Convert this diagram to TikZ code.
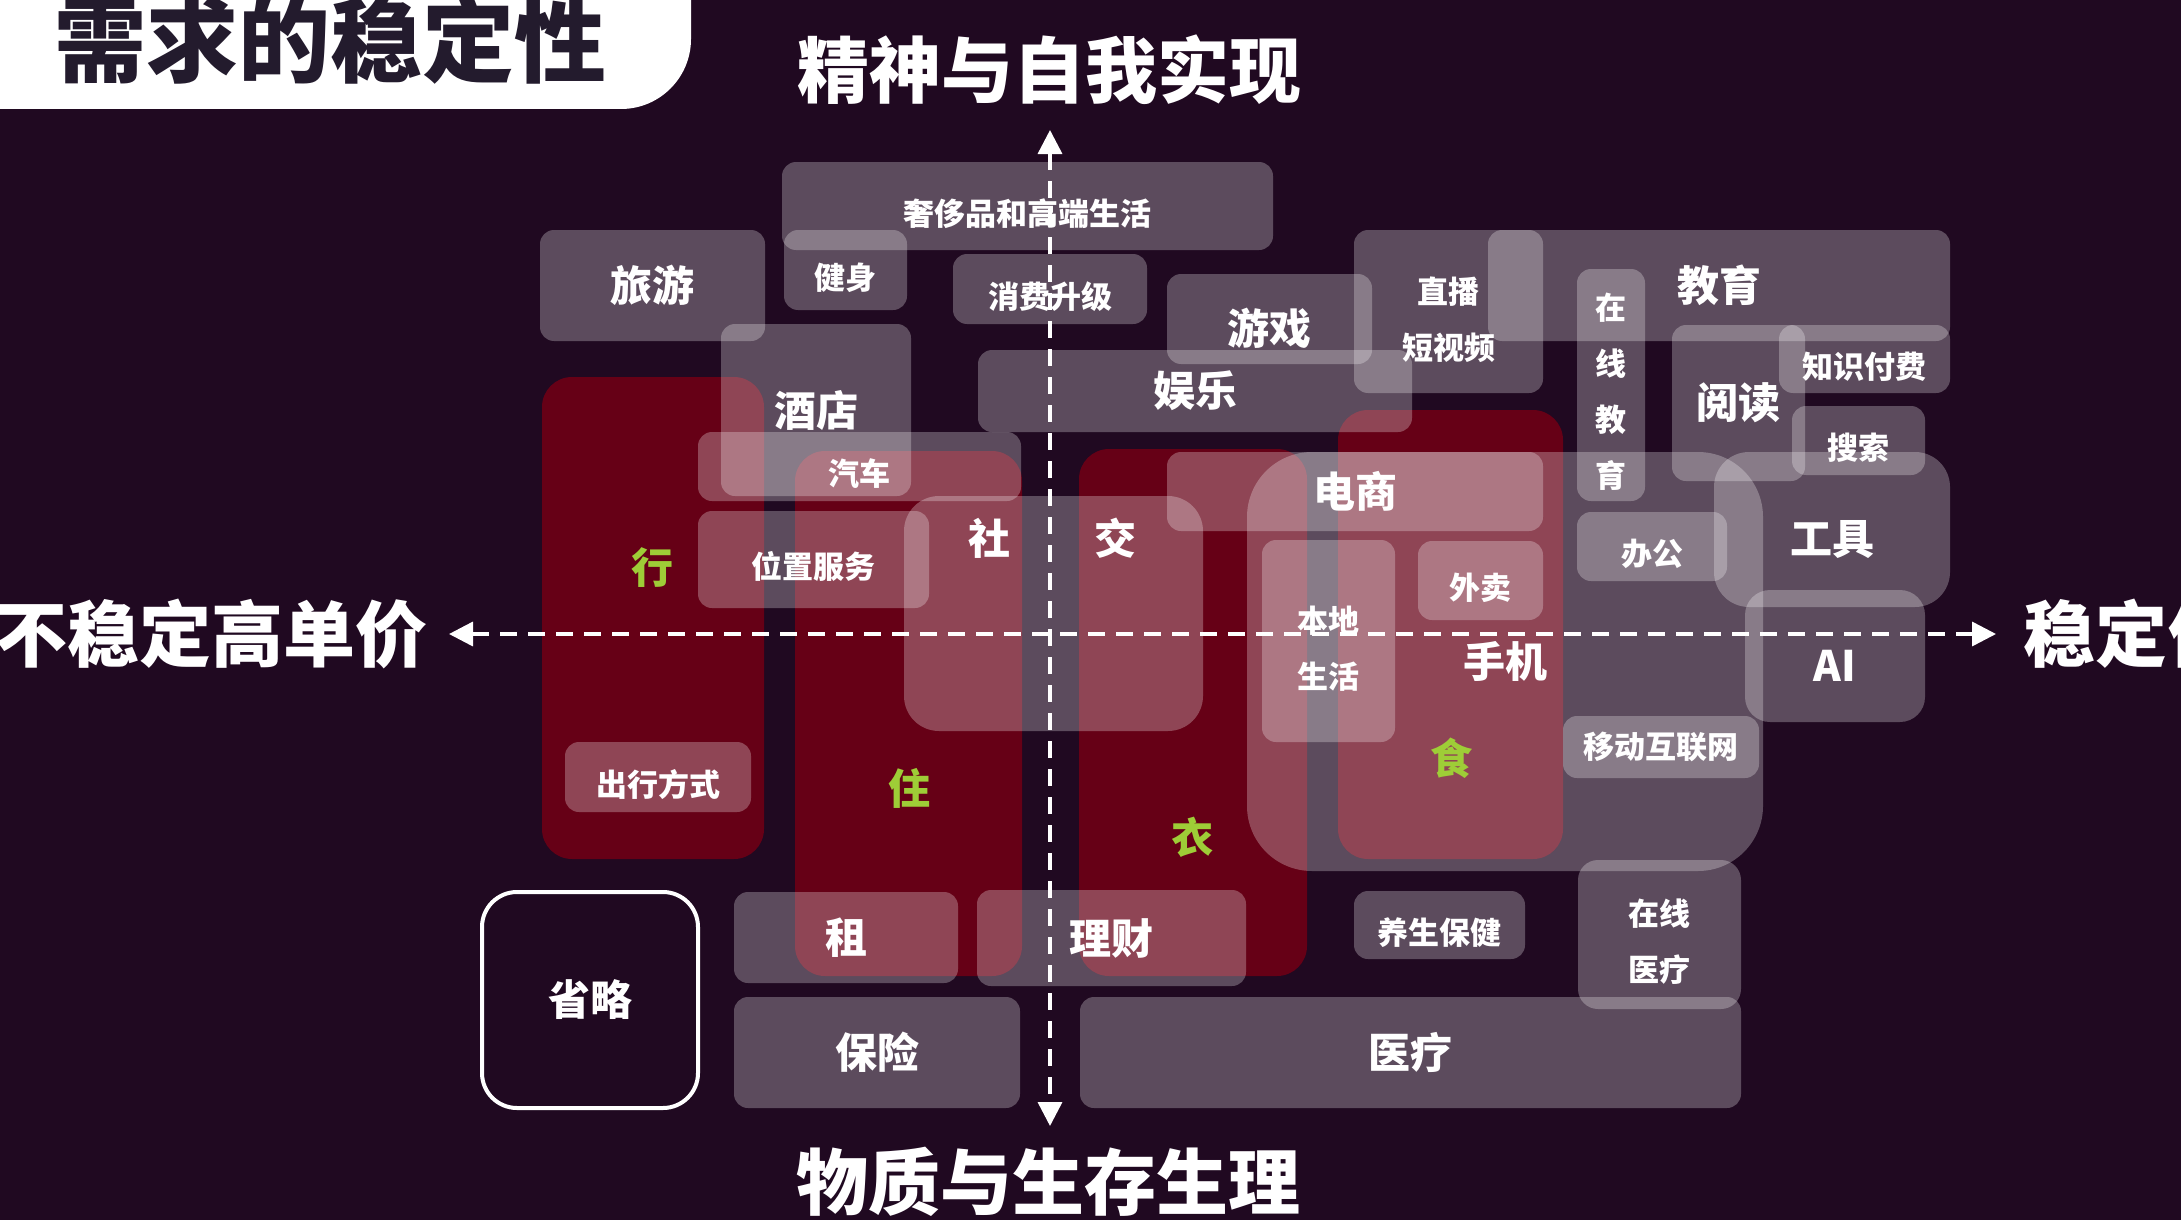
\documentclass[tikz,border=0pt]{standalone}
\usepackage{fontspec}
\setmainfont{Noto Sans CJK SC}
\usepackage{tikz}
\usetikzlibrary{arrows.meta}
\definecolor{bg}{RGB}{32,9,33}
\definecolor{wine}{RGB}{102,0,22}
\definecolor{lime}{RGB}{158,205,55}
\definecolor{ink}{RGB}{35,27,45}
\newcommand{\smtxt}{\fontsize{31}{56}\selectfont\bfseries}
\newcommand{\bgtxt}{\fontsize{42}{42}\selectfont\bfseries}
\newcommand{\axtxt}{\fontsize{72}{72}\selectfont\bfseries}
\newcommand{\tttxt}{\fontsize{92}{92}\selectfont\bfseries}
\tikzset{
	gbox/.style={fill=white, fill opacity=0.27, text opacity=1, text=white, rounded corners=14pt, inner sep=0pt},
	rbox/.style={fill=wine, rounded corners=30pt, inner sep=0pt},
	stxt/.style={font=\smtxt, text height=40pt, text depth=2pt},
	btxt/.style={font=\bgtxt},
	ltxt/.style={font=\bgtxt, text height=53pt, text depth=3pt},
	mtxt/.style={text=white, font=\smtxt, align=center},
	axisline/.style={white, line width=3.5pt, dash pattern=on 17pt off 11pt, {Triangle[length=24pt,width=24pt]}-{Triangle[length=24pt,width=24pt]}},
}

\begin{document}
\begin{tikzpicture}[x=1pt, y=-1pt]
	\useasboundingbox (0,0) rectangle (2181,1220);
	\fill [bg] (0,0) rectangle (2181,1220);
	\node [fill=white, rounded corners=70pt, minimum width=791pt, minimum height=189pt, inner sep=0pt] (T0) at (295.5,14.5) {};
	\node [text=ink, font=\tttxt] (T1) at (330,40) {需求的稳定性};
	\node [rbox, minimum width=222pt, minimum height=482pt] (R1) at (653,618) {};
	\node [rbox, minimum width=227pt, minimum height=525pt] (R2) at (908.5,713.5) {};
	\node [rbox, minimum width=228pt, minimum height=527pt] (R3) at (1193,712.5) {};
	\node [rbox, minimum width=225pt, minimum height=449pt] (R4) at (1450.5,634.5) {};
	\node [gbox, stxt, minimum width=491pt, minimum height=88pt] (B1) at (1027.5,206) {奢侈品和高端生活};
	\node [gbox, btxt, minimum width=225pt, minimum height=111pt] (B2) at (652.5,285.5) {旅游};
	\node [gbox, stxt, minimum width=123pt, minimum height=80pt] (B3) at (845.5,270) {健身};
	\node [gbox, stxt, minimum width=194pt, minimum height=70pt] (B4) at (1050,289) {消费升级};
	\node [gbox, btxt, minimum width=190pt, minimum height=172pt] (B5) at (816,410) {酒店};
	\node [gbox, stxt, minimum width=323pt, minimum height=69pt] (B6) at (859.5,466.5) {汽车};
	\node [gbox, stxt, minimum width=231pt, minimum height=97pt] (B7) at (813.5,559.5) {位置服务};
	\node [gbox, minimum width=299pt, minimum height=235pt, rounded corners=35pt] (B8) at (1053.5,613.5) {};
	\node [gbox, ltxt, minimum width=205pt, minimum height=90pt] (B9) at (1269.5,319) {游戏};
	\node [gbox, btxt, minimum width=434pt, minimum height=82pt] (B10) at (1195,391) {娱乐};
	\node [gbox, minimum width=189pt, minimum height=163pt] (B11) at (1448.5,311.5) {};
	\node [gbox, btxt, minimum width=462pt, minimum height=111pt] (B12) at (1719,285.5) {教育};
	\node [gbox, minimum width=68pt, minimum height=232pt] (B13) at (1611,385) {};
	\node [gbox, btxt, minimum width=133pt, minimum height=156pt] (B14) at (1738.5,403) {阅读};
	\node [gbox, stxt, minimum width=171pt, minimum height=68pt] (B15) at (1864.5,359) {知识付费};
	\node [gbox, stxt, minimum width=133pt, minimum height=69pt] (B16) at (1858.5,440.5) {搜索};
	\node [gbox, btxt, minimum width=516pt, minimum height=419pt, rounded corners=65pt] (B17) at (1505,661.5) {手机};
	\node [gbox, btxt, minimum width=376pt, minimum height=79pt] (B18) at (1355,491.5) {电商};
	\node [gbox, minimum width=133pt, minimum height=202pt] (B19) at (1328.5,641) {};
	\node [gbox, stxt, minimum width=125pt, minimum height=79pt] (B20) at (1480.5,580.5) {外卖};
	\node [gbox, stxt, minimum width=150pt, minimum height=69pt] (B21) at (1652,546.5) {办公};
	\node [gbox, ltxt, minimum width=236pt, minimum height=155pt, rounded corners=35pt] (B22) at (1832,529.5) {工具};
	\node [gbox, ltxt, minimum width=180pt, minimum height=132pt, rounded corners=25pt] (B23) at (1835,656) {AI};
	\node [gbox, font=\smtxt, minimum width=196pt, minimum height=62pt] (B24) at (1661,747) {移动互联网};
	\node [gbox, stxt, minimum width=186pt, minimum height=70pt] (B25) at (658,777) {出行方式};
	\node [gbox, btxt, minimum width=224pt, minimum height=91pt] (B26) at (846,937.5) {租};
	\node [gbox, btxt, minimum width=269pt, minimum height=96pt] (B27) at (1111.5,938) {理财};
	\node [gbox, stxt, minimum width=171pt, minimum height=68pt] (B28) at (1439.5,925) {养生保健};
	\node [gbox, minimum width=163pt, minimum height=149pt, rounded corners=20pt] (B29) at (1659.5,934.5) {};
	\node [gbox, btxt, minimum width=286pt, minimum height=111pt] (B30) at (877,1052.5) {保险};
	\node [gbox, btxt, minimum width=661pt, minimum height=111pt] (B31) at (1410.5,1052.5) {医疗};
	\node [draw=white, line width=4pt, rounded corners=35pt, minimum width=216pt, minimum height=216pt, inner sep=0pt, text=white, font=\bgtxt] (B32) at (590,1000) {省略};
	\node [mtxt] (M1) at (1448.5,320) {直播\\短视频};
	\node [mtxt] (M2) at (1611,392) {在\\线\\教\\育};
	\node [mtxt] (M3) at (1328.5,649) {本地\\生活};
	\node [mtxt] (M4) at (1659.5,942) {在线\\医疗};
	\coordinate (N) at (1050,130);
	\coordinate (S) at (1050,1126);
	\coordinate (W) at (449,634);
	\coordinate (E) at (1996,634);
	\draw [axisline] (N) -- (S);
	\draw [axisline] (W) -- (E);
	\node [text=white, font=\bgtxt] (L1) at (989,538) {社};
	\node [text=white, font=\bgtxt] (L2) at (1115.5,538) {交};
	\node [text=lime, font=\bgtxt] (G1) at (652,568) {行};
	\node [text=lime, font=\bgtxt] (G2) at (909,788) {住};
	\node [text=lime, font=\bgtxt] (G3) at (1192,837) {衣};
	\node [text=lime, font=\bgtxt] (G4) at (1451,758) {食};
	\node [text=white, font=\axtxt] (A1) at (1049.5,70) {精神与自我实现};
	\node [text=white, font=\axtxt] (A2) at (1048,1182) {物质与生存生理};
	\node [text=white, font=\axtxt, anchor=east] (A3) at (431,634) {不稳定高单价};
	\node [text=white, font=\axtxt, anchor=west] (A4) at (2020,634) {稳定低单价};
\end{tikzpicture}
\end{document}
